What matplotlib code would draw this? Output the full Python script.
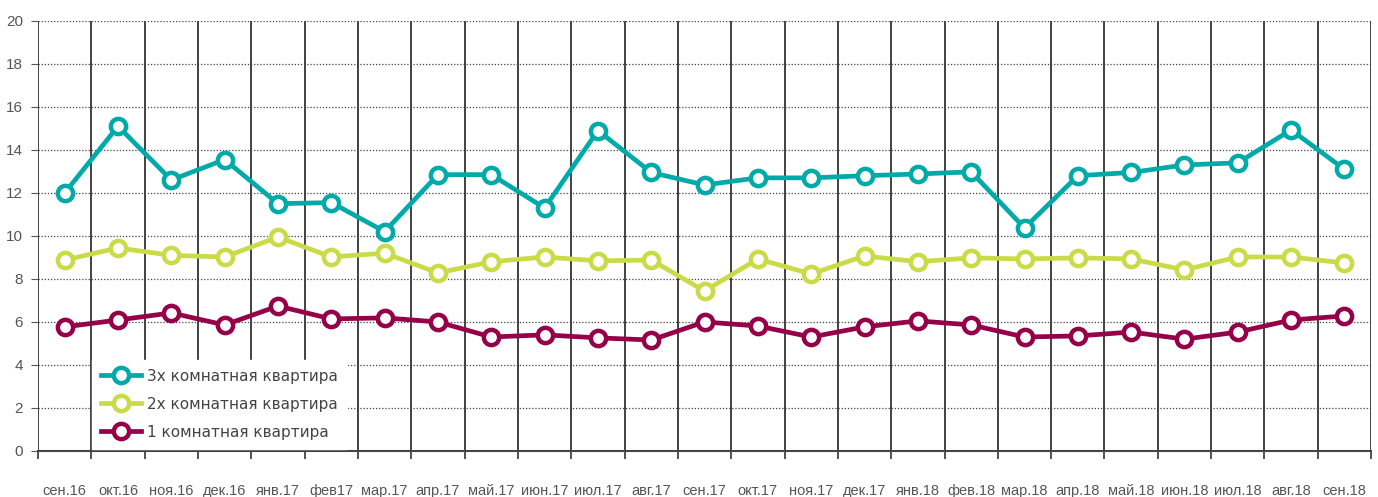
import matplotlib.pyplot as plt

months = ['сен.16', 'окт.16', 'ноя.16', 'дек.16', 'янв.17', 'фев17', 'мар.17', 'апр.17',
          'май.17', 'июн.17', 'июл.17', 'авг.17', 'сен.17', 'окт.17', 'ноя.17', 'дек.17',
          'янв.18', 'фев.18', 'мар.18', 'апр.18', 'май.18', 'июн.18', 'июл.18', 'авг.18', 'сен.18']

room3 = [12.0, 15.1, 12.6, 13.55, 11.5, 11.55, 10.2, 12.85, 12.85, 11.3, 14.9, 12.95, 12.37,
         12.7, 12.7, 12.8, 12.88, 12.98, 10.37, 12.8, 12.95, 13.3, 13.4, 14.93, 13.1]
room2 = [8.88, 9.44, 9.1, 9.02, 9.95, 9.02, 9.2, 8.28, 8.8, 9.02, 8.84, 8.88, 7.44,
         8.93, 8.23, 9.07, 8.8, 8.98, 8.93, 8.98, 8.93, 8.42, 9.02, 9.02, 8.74]
room1 = [5.77, 6.09, 6.42, 5.86, 6.74, 6.14, 6.19, 6.0, 5.3, 5.4, 5.26, 5.16, 6.0,
         5.81, 5.3, 5.77, 6.05, 5.86, 5.3, 5.35, 5.53, 5.2, 5.53, 6.09, 6.28]

names = ['3х комнатная квартира', '2х комнатная квартира', '1 комнатная квартира']
colors = ['#00aaa9', '#c9dc48', '#960049']

tick_font = 'Liberation Sans'

fig = plt.figure(figsize=(13.78, 4.97), dpi=100)
ax = fig.add_axes([0.0276, 0.0926, 0.9674, 0.8654])

x = list(range(len(months)))
for vals, name, c in zip([room3, room2, room1], names, colors):
    ax.plot(x, vals, color=c, linewidth=3.4, marker='o', markersize=11,
            markerfacecolor='white', markeredgecolor=c, markeredgewidth=3.2,
            label=name, zorder=3)

ax.set_xlim(-0.5, len(months) - 0.5)
ax.set_ylim(0, 20)
ax.set_yticks(range(0, 21, 2))
ax.set_xticks(x)
ax.set_xticklabels(months, fontfamily=tick_font, fontsize=10.5, color='#555555')
ax.set_xticks([i - 0.5 for i in range(len(months) + 1)], minor=True)
for lab in ax.get_yticklabels():
    lab.set_fontfamily(tick_font)
ax.tick_params(axis='y', labelsize=11, labelcolor='#555555', color='#555555', length=5, pad=6)
ax.tick_params(axis='x', which='major', length=0, pad=24)
ax.tick_params(axis='x', which='minor', length=6, color='#333333', width=1.2)

ax.grid(axis='y', linestyle=(0, (1, 1.5)), color='#444444', linewidth=0.9)
ax.grid(axis='x', which='minor', linestyle='-', color='#333333', linewidth=1.3)
ax.set_axisbelow(True)

for s in ['top', 'right', 'left']:
    ax.spines[s].set_visible(False)
ax.spines['bottom'].set_color('#444444')
ax.spines['bottom'].set_linewidth(1.5)

leg = ax.legend(loc='lower left', bbox_to_anchor=(0.0405, 0.005), frameon=True,
                fontsize=11, handlelength=2.6, handletextpad=0.4, labelspacing=0.85,
                borderpad=0.6, fancybox=False, borderaxespad=0)
leg.get_frame().set_facecolor('white')
leg.get_frame().set_edgecolor('white')
leg.get_frame().set_alpha(1)
for t in leg.get_texts():
    t.set_color('#444444')

fig.savefig('out.png', dpi=100, facecolor='white')
